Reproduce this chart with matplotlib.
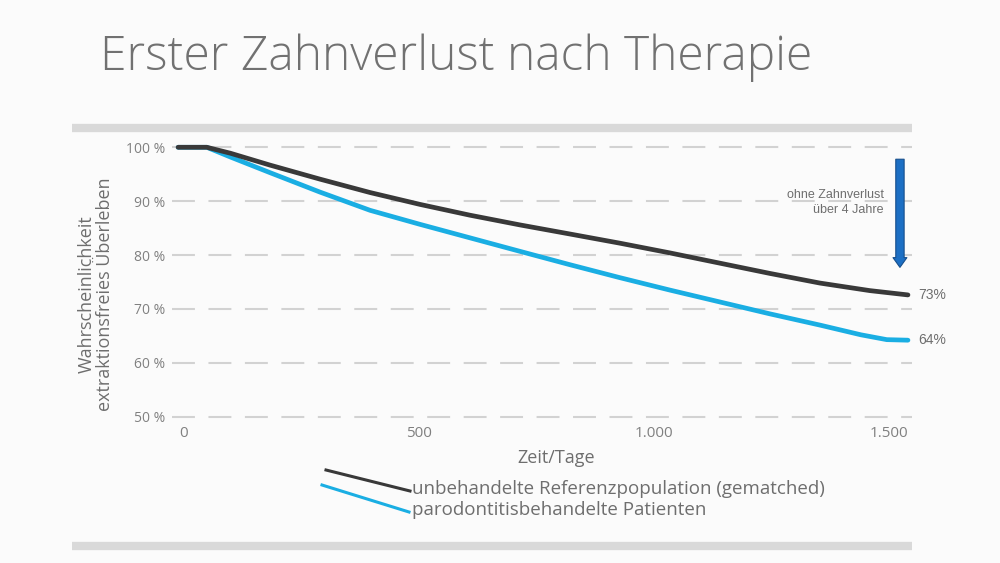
import numpy as np
import matplotlib.pyplot as plt
from matplotlib.lines import Line2D

# values (days, survival in %)
days_ref = [-11, 50, 100, 184, 290, 397, 503, 609, 715, 822, 928, 1034, 1140, 1246, 1353, 1459, 1540]
surv_ref = [100, 100, 98.9, 96.7, 94.1, 91.6, 89.4, 87.4, 85.6, 83.9, 82.2, 80.4, 78.5, 76.6, 74.8, 73.4, 72.6]
days_pat = [-11, 50, 100, 184, 290, 397, 503, 609, 715, 822, 928, 1034, 1140, 1246, 1353, 1440, 1495, 1540]
surv_pat = [100, 100, 98.2, 95.3, 91.7, 88.3, 85.7, 83.2, 80.7, 78.2, 75.8, 73.5, 71.3, 69.1, 67.0, 65.2, 64.3, 64.2]
yticks = [50, 60, 70, 80, 90, 100]
xticks = [0, 500, 1000, 1500]
xticklabels = ["0", "500", "1.000", "1.500"]
end_labels = ["73%", "64%"]
legend_labels = ["unbehandelte Referenzpopulation (gematched)", "parodontitisbehandelte Patienten"]

dark = "#393939"
blue = "#1aaee3"
grey_txt = "#6e6e6e"
H = 563.0

fig = plt.figure(figsize=[10, 5.63], dpi=100)
fig.patch.set_facecolor("#fbfbfb")

# title and grey bars
fig.text(0.1, 1 - 69.5 / H, "Erster Zahnverlust nach Therapie", fontsize=34.5, color="#717171",
         family="Open Sans", fontweight="light", va="baseline", ha="left")
for yb in [128, 546]:
    fig.add_artist(Line2D([0.072, 0.912], [1 - yb / H, 1 - yb / H], color="#d9d9d9", lw=6,
                          solid_capstyle="butt"))

ax = fig.add_axes([0.172, 1 - 425 / H, 0.74, 290 / H])
ax.set_facecolor("none")
ax.set_xlim(-24, 1548.6)
ax.set_ylim(48.46, 102.28)

for yv in yticks:
    ax.axhline(yv, color="#d2d2d2", lw=1.5, dashes=(11, 6.5), zorder=0)

ax.plot(days_ref, surv_ref, color=dark, lw=3.4, solid_capstyle="round", solid_joinstyle="round", zorder=3)
ax.plot(days_pat, surv_pat, color=blue, lw=3.4, solid_capstyle="round", solid_joinstyle="round", zorder=2)

ax.text(1561, surv_ref[-1], end_labels[0], color=grey_txt, fontsize=10,
        family="Liberation Sans", va="center", ha="left", clip_on=False)
ax.text(1561, surv_pat[-1], end_labels[1], color=grey_txt, fontsize=10,
        family="Liberation Sans", va="center", ha="left", clip_on=False)

ax.annotate("", xy=(1523, 77.2), xytext=(1523, 98.3),
            arrowprops=dict(arrowstyle="simple,head_width=1.0,head_length=0.7,tail_width=0.6",
                            fc="#1c6fc4", ec="#174f8c", lw=0.8))
ax.text(1489, 89.7, "ohne Zahnverlust\nüber 4 Jahre", color=grey_txt, fontsize=9,
        family="Liberation Sans", ha="right", va="center", linespacing=1.3)

for s in ax.spines.values():
    s.set_visible(False)
ax.tick_params(length=0, labelsize=10, colors="#808080", pad=5)
ax.set_yticks(yticks)
ax.set_yticklabels([f"{v} %" for v in yticks], family="Open Sans")
ax.set_xticks(xticks)
ax.set_xticklabels(xticklabels, family="Open Sans", fontsize=11)
ax.tick_params(axis="x", pad=1)

fig.text(0.556, 1 - 458 / H, "Zeit/Tage", family="Open Sans", fontsize=13, color=grey_txt,
         ha="center", va="center")
fig.text(0.096, 1 - 294 / H, "Wahrscheinlichkeit\nextraktionsfreies Überleben", family="Open Sans",
         fontsize=13, color=grey_txt, rotation=90, ha="center", va="center",
         multialignment="center", linespacing=1.05)

# legend with slanted line samples
fig.add_artist(Line2D([0.326, 0.41], [1 - 470 / H, 1 - 491 / H], color=dark, lw=2.2))
fig.add_artist(Line2D([0.322, 0.409], [1 - 485 / H, 1 - 512 / H], color=blue, lw=2.2))
fig.text(0.412, 1 - 489 / H, legend_labels[0], family="Open Sans",
         fontsize=13.5, color=grey_txt, va="center", ha="left")
fig.text(0.412, 1 - 510 / H, legend_labels[1], family="Open Sans",
         fontsize=13.5, color=grey_txt, va="center", ha="left")

fig.savefig("out.png", dpi=100, facecolor=fig.get_facecolor())
